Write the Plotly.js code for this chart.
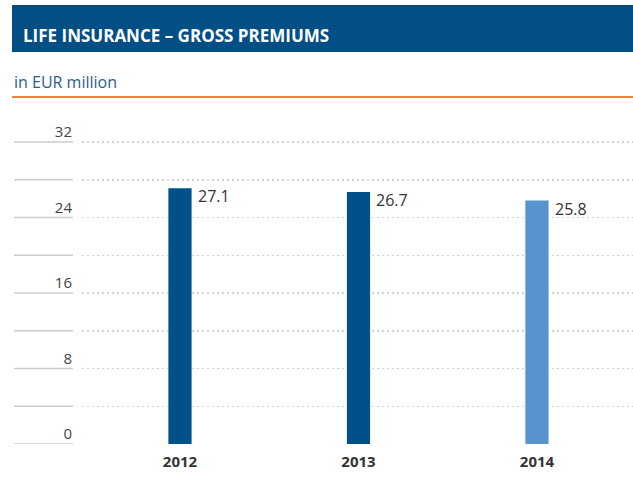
<!DOCTYPE html>
<html>
<head>
<meta charset="utf-8">
<script src="https://cdn.plot.ly/plotly-3.0.1.min.js"></script>
<style>html,body{margin:0;padding:0;background:#fff;}#chart{width:633px;height:484px;}</style>
</head>
<body>
<div id="chart"></div>
<script>
// Data
const years = ['2012', '2013', '2014'];
const premiums = [27.1, 26.7, 25.8];
const valueLabels = ['27.1', '26.7', '25.8'];
const barColors = ['#00508a', '#00508a', '#5793cf'];
const gridVals = [0, 4, 8, 12, 16, 20, 24, 28, 32];
const gridText = ['0', '', '8', '', '16', '', '24', '', '32'];

const FONT = 'Open Sans, Noto Sans, sans-serif';
const W = 633, H = 484;
const L = 82, R = 0, T = 100, B = 40;
const pw = W - L - R, ph = H - T - B;
const px = p => (p - L) / pw;          // pixel x -> paper x
const py = p => (H - B - p) / ph;      // pixel y -> paper y

const bars = {
  type: 'bar',
  x: years,
  y: premiums,
  width: 0.13,
  marker: { color: barColors, line: { width: 0 } },
  hoverinfo: 'skip'
};

const shapes = [];
// header bar
shapes.push({ type: 'rect', xref: 'paper', yref: 'paper', x0: px(12), x1: 1, y0: py(52), y1: py(5),
  fillcolor: '#024f86', line: { width: 0 }, layer: 'below' });
// orange rule
shapes.push({ type: 'line', xref: 'paper', yref: 'paper', x0: px(12), x1: 1, y0: py(97), y1: py(97),
  line: { color: '#ee7f45', width: 2 } });
// solid short rules under tick labels
gridVals.forEach(v => {
  shapes.push({ type: 'line', xref: 'paper', yref: 'y', x0: px(14), x1: px(73), y0: v, y1: v,
    line: { color: '#cccccc', width: 1.5 } });
});

const annotations = [];
annotations.push({ xref: 'paper', yref: 'paper', x: px(12), y: py(82), xanchor: 'left', yanchor: 'middle',
  text: 'in EUR million', showarrow: false, font: { family: FONT, size: 16, color: '#2c5d8e' } });
years.forEach((yr, i) => {
  annotations.push({ x: i, y: premiums[i], xref: 'x', yref: 'y', xanchor: 'left', yanchor: 'middle',
    xshift: 16, yshift: -8, text: valueLabels[i], showarrow: false,
    font: { family: FONT, size: 16, color: '#333333' } });
});

const layout = {
  width: W, height: H,
  margin: { l: L, r: R, t: T, b: B, pad: 0 },
  paper_bgcolor: '#ffffff', plot_bgcolor: '#ffffff',
  showlegend: false,
  title: { text: 'LIFE INSURANCE – GROSS PREMIUMS', x: 23 / W, xanchor: 'left', y: 1 - 36 / H, yanchor: 'middle',
    xref: 'container', yref: 'container',
    font: { family: FONT, size: 17, color: '#ffffff', weight: 'bold' } },
  xaxis: {
    type: 'category', range: [-0.549, 2.538],
    showgrid: false, zeroline: false, showline: false, ticks: '',
    ticklabelstandoff: 7,
    tickfont: { family: FONT, size: 15, color: '#333333', weight: 'bold' },
    fixedrange: true
  },
  yaxis: {
    range: [0, 36.45],
    tickvals: gridVals, ticktext: gridText,
    showgrid: true, gridcolor: '#d2d2d2', griddash: '2px,3px', gridwidth: 1.5,
    zeroline: false, showline: false, ticks: '',
    ticklabelshift: -10, ticklabelstandoff: 9,
    tickfont: { family: FONT, size: 15, color: '#444444' },
    fixedrange: true
  },
  shapes: shapes,
  annotations: annotations
};

Plotly.newPlot('chart', [bars], layout, { staticPlot: true, displayModeBar: false });
</script>
</body>
</html>
